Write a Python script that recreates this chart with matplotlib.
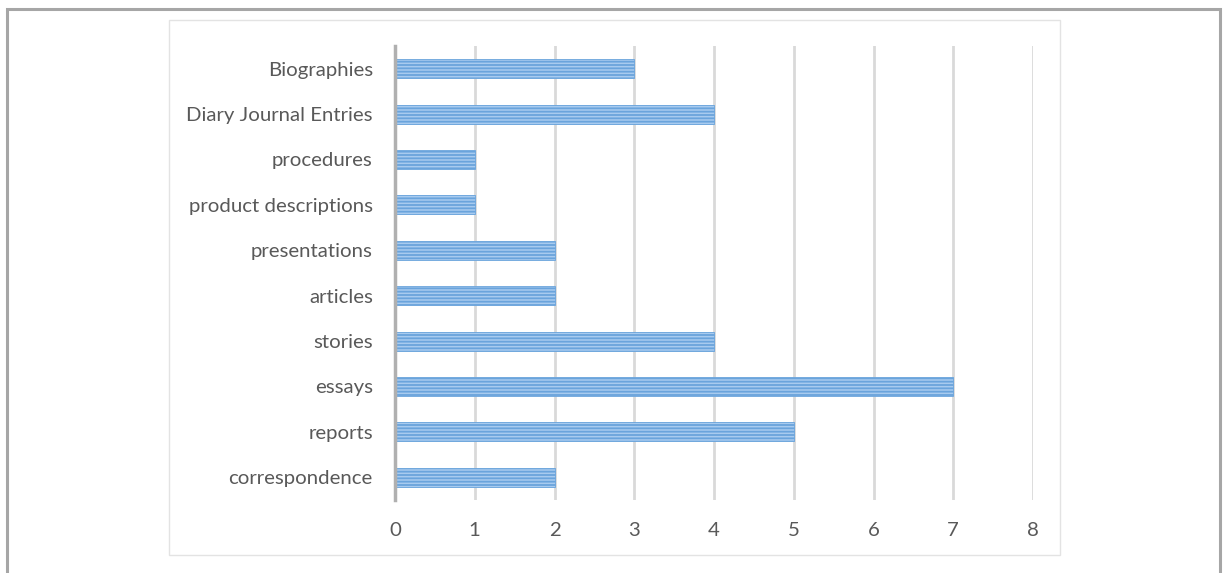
import matplotlib
matplotlib.use("Agg")
import matplotlib.pyplot as plt
from matplotlib.patches import Rectangle

# Text-type counts, listed bottom to top
categories = ["correspondence", "reports", "essays", "stories", "articles",
              "presentations", "product descriptions", "procedures",
              "Diary Journal Entries", "Biographies"]
counts = [2, 5, 7, 4, 2, 2, 1, 1, 4, 3]
x_ticks = [0, 1, 2, 3, 4, 5, 6, 7, 8]

plt.rcParams["font.family"] = ["Lato", "DejaVu Sans"]
plt.rcParams["hatch.linewidth"] = 1.3

W, H = 1223, 573
fig = plt.figure(figsize=(W / 100, H / 100), dpi=100)
fig.patch.set_facecolor("white")

# outer page border and inner chart-area frame
fig.add_artist(Rectangle((7 / W, -0.05), (1220 - 7) / W, 1.05 - 9 / H,
                         transform=fig.transFigure, fill=False,
                         edgecolor="#a6a6a6", linewidth=2.2))
fig.add_artist(Rectangle((169 / W, 1 - 555 / H), (1060 - 169) / W, (555 - 20) / H,
                         transform=fig.transFigure, fill=False,
                         edgecolor="#e3e3e3", linewidth=1.0))

ax = fig.add_axes([395 / W, 1 - 500 / H, (1033 - 395) / W, (500 - 46) / H])
ax.set_facecolor("none")

ypos = list(range(len(categories)))
ax.barh(ypos, counts, height=0.42, color="#a8cbef", edgecolor="#6aa4dc",
        hatch="-----", linewidth=0.6, zorder=3)

ax.set_xlim(0, 8)
ax.set_ylim(-0.5, len(categories) - 0.5)
ax.set_xticks(x_ticks)
ax.set_xticklabels([str(t) for t in x_ticks])
ax.set_yticks(ypos)
ax.set_yticklabels(categories)

for t in x_ticks[1:]:
    ax.axvline(t, color="#d9d9d9", linewidth=2.0, zorder=1)

for s in ("top", "right", "bottom"):
    ax.spines[s].set_visible(False)
ax.spines["left"].set_color("#b0b0b0")
ax.spines["left"].set_linewidth(2.5)
ax.spines["left"].set_zorder(4)

ax.tick_params(axis="both", length=0, labelsize=14.7, colors="#595959")
ax.tick_params(axis="y", pad=16)
ax.tick_params(axis="x", pad=16)

fig.savefig("out.png", dpi=100)
